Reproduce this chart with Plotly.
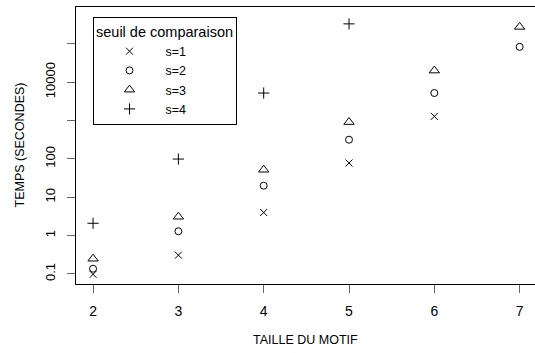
import plotly.graph_objects as go

taille = [2, 3, 4, 5, 6, 7]
s1 = [0.098, 0.31, 4, 78, 1280, None]
s2 = [0.137, 1.3, 20, 316, 5200, 83000]
s3 = [0.25, 3.1, 52, 910, 20000, 275000]
s4 = [2.1, 99, 5200, 330000, None, None]

series = [("s=1", s1, "x-thin", 7), ("s=2", s2, "circle-open", 7),
          ("s=3", s3, "triangle-up-open", 9), ("s=4", s4, "cross-thin", 8)]

ytickvals = [0.1, 1, 10, 100, 1000, 10000, 100000]
yticktext = ["0.1", "1", "10", "100", "", "10000", ""]

FONT = "Liberation Sans, Arial, Helvetica, sans-serif"

fig = go.Figure()
for name, vals, sym, sz in series:
    fig.add_trace(go.Scatter(
        x=taille, y=vals, mode="markers", name=name,
        marker=dict(symbol=sym, size=sz, color="black",
                    line=dict(color="black", width=1))))

fig.update_layout(
    width=535, height=353,
    margin=dict(l=76, r=0, t=7, b=69, autoexpand=False),
    plot_bgcolor="white", paper_bgcolor="white",
    font=dict(family=FONT, size=12, color="black"),
    showlegend=True,
    legend=dict(
        x=0.036, y=0.965, xanchor="left", yanchor="top",
        bgcolor="white", bordercolor="black", borderwidth=1,
        font=dict(family=FONT, size=12.5, color="black"),
        title=dict(text="seuil de comparaison", side="top center",
                   font=dict(family=FONT, size=14.5)),
        itemwidth=62, tracegroupgap=0,
    ),
    xaxis=dict(
        range=[1.8, 7.18], tickvals=taille, ticks="outside", ticklen=8,
        tickcolor="#666", tickwidth=1, showgrid=False, zeroline=False,
        showline=True, linecolor="black", linewidth=1, mirror=True,
        tickfont=dict(size=14), ticklabelstandoff=6, automargin=False,
    ),
    yaxis=dict(
        type="log", range=[-1.261, 5.958], tickvals=ytickvals,
        ticktext=yticktext, ticks="outside", ticklen=8, tickcolor="#666",
        tickwidth=1, showgrid=False, zeroline=False, showline=True,
        linecolor="black", linewidth=1, tickangle=-90,
        tickfont=dict(size=13), ticklabelstandoff=7, automargin=False,
    ),
    annotations=[
        dict(text="TAILLE DU MOTIF", xref="paper", yref="paper",
             x=0.5, y=-56 / 276.5, xanchor="center", yanchor="middle",
             showarrow=False, font=dict(size=12.5)),
        dict(text="TEMPS (SECONDES)", xref="paper", yref="paper",
             x=-57 / 459, y=0.5, xanchor="center", yanchor="middle",
             textangle=-90, showarrow=False, font=dict(size=12.5)),
    ],
)

fig.write_html("out.html", config={"displayModeBar": False},
               post_script="document.body.style.margin='0';"
                           "document.body.style.padding='0';")
